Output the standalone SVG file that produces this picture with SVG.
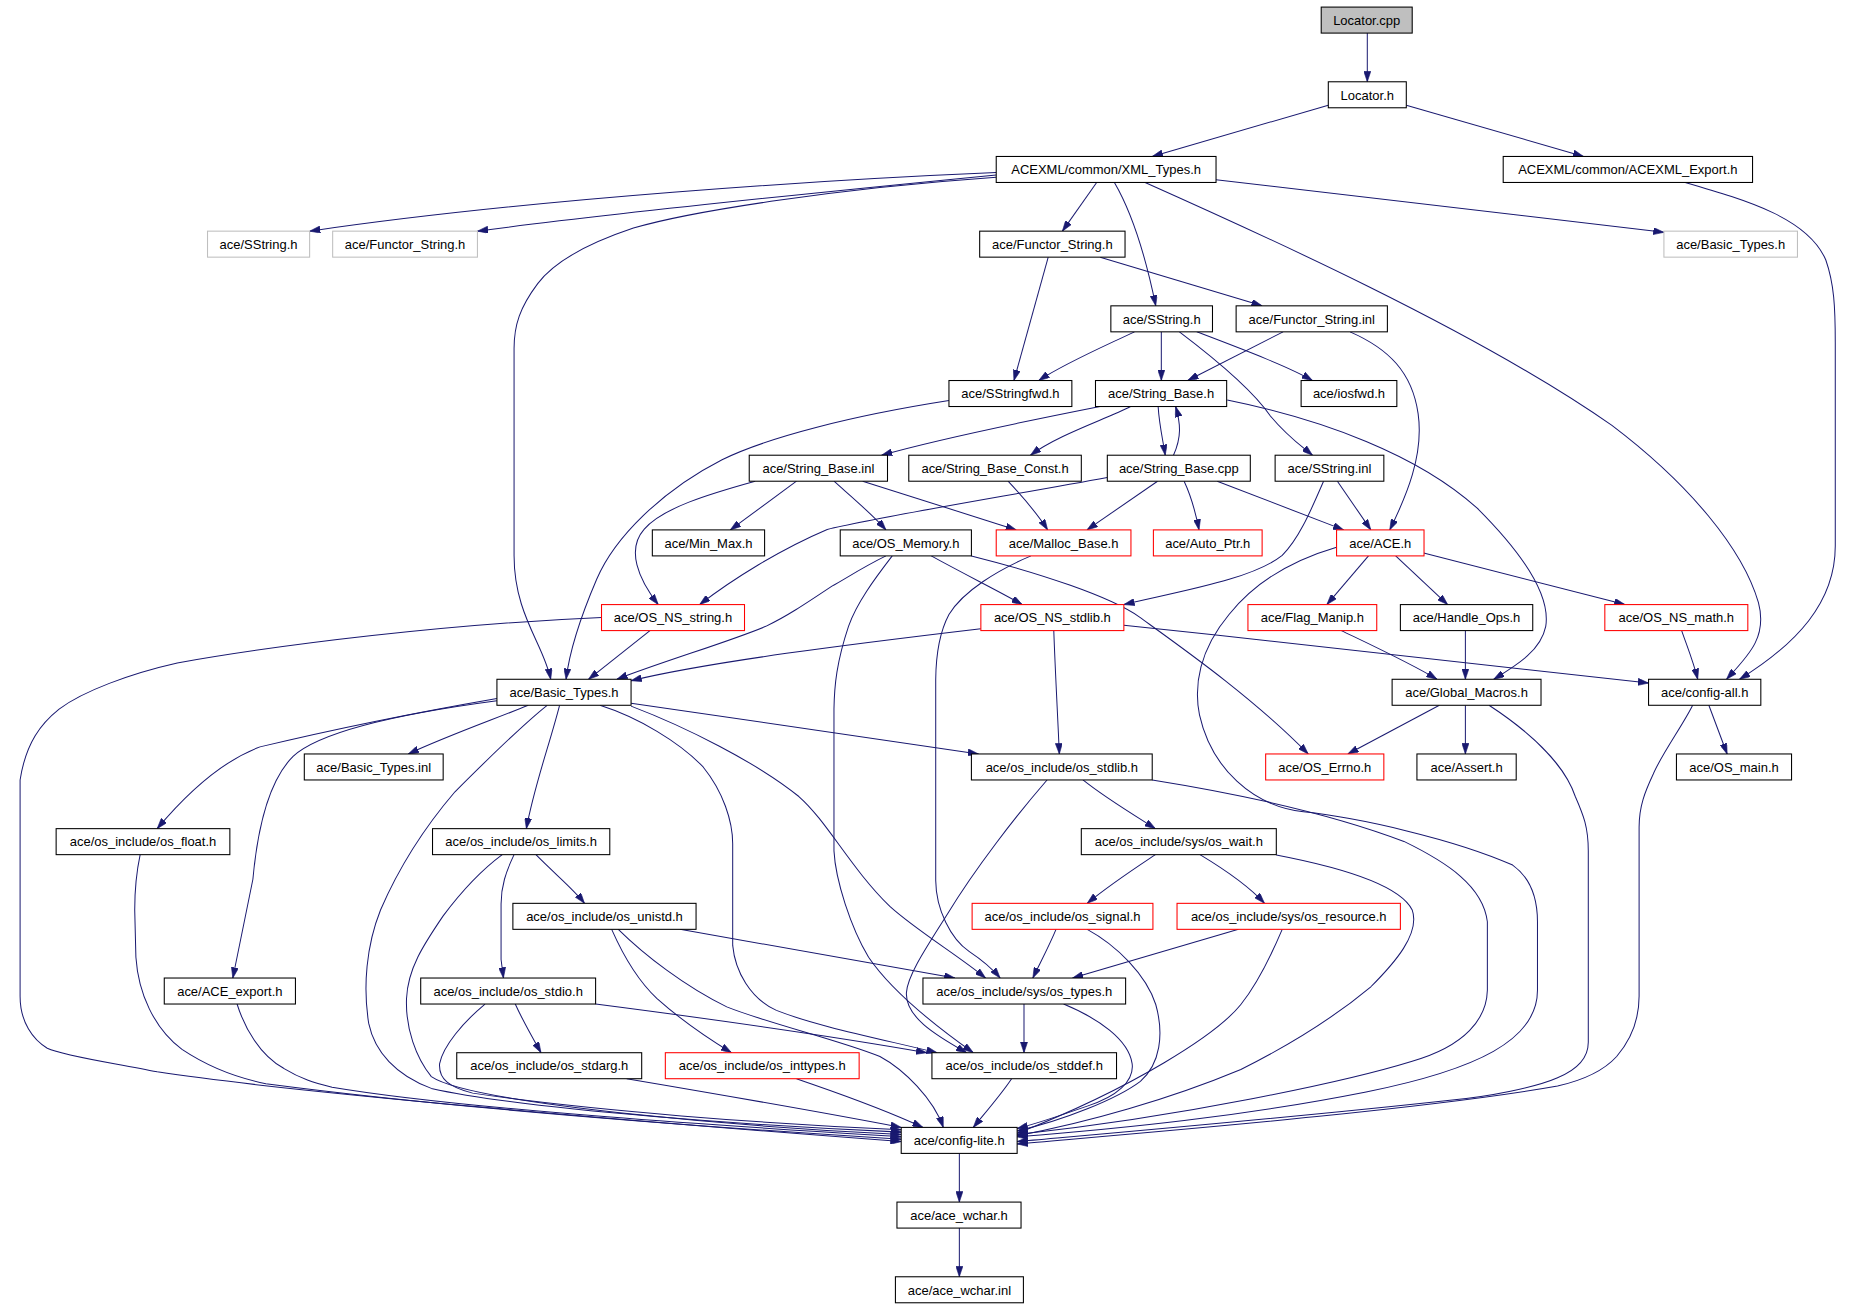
<svg xmlns="http://www.w3.org/2000/svg" width="1853" height="1307" viewBox="0 0 1853 1307">
<style>
.n rect{fill:#fff;stroke:#000;stroke-width:0.9}
.n.r rect{stroke:#f00}
.n.g rect{stroke:#bfbfbf}
.n.root rect{fill:#bfbfbf}
.n text{font-family:"Liberation Sans",Arial,Helvetica,sans-serif;font-size:11px;fill:#000;text-anchor:middle}
#edges path{fill:none;stroke:#191970;stroke-width:0.85;marker-end:url(#ah)}
</style>
<defs>
<marker id="ah" markerUnits="userSpaceOnUse" markerWidth="9" markerHeight="6" refX="9" refY="3" orient="auto">
<path d="M0,0 L9,3 L0,6 z" fill="#191970" stroke="#191970" stroke-width="0.5"/>
</marker>
</defs>
<rect width="1853" height="1307" fill="#fff"/>
<g transform="scale(1.18176)">
<g id="edges">
<path d="M1157,28 L1157,69.2"/>
<path d="M1124,89 L975,132.4"/>
<path d="M1190,89 L1340,132.4"/>
<path d="M843,146 C700,152 450,168 262,195.6"/>
<path d="M843,148 C700,162 520,180 404,195.6"/>
<path d="M843,150 C700,160 580,180 536,193 C500,205 470,220 455,240 C440,260 435,275 435,295 L435,470 C435,520 460,545 466,574.8"/>
<path d="M928,154.4 L899,195.6"/>
<path d="M943,154.4 C955,175 968,210 978,258.8"/>
<path d="M1029,152 L1408,196.6"/>
<path d="M969,154.4 C1060,195 1250,280 1364,360 C1430,410 1475,465 1488,510 C1496,540 1478,556 1461,574.8"/>
<path d="M1426,154.4 C1480,170 1530,185 1545,220 C1552,240 1553,260 1553,290 L1553,462 C1553,510 1520,545 1472,574.8"/>
<path d="M887,217.6 L858,322"/>
<path d="M931,217.6 L1068,258.8"/>
<path d="M960,280.8 C930,295 900,308 879,322"/>
<path d="M982.7,280.8 L982.7,322"/>
<path d="M1012.7,280.8 C1050,295 1090,310 1110.6,322"/>
<path d="M998,280.8 C1030,305 1060,330 1075,352 C1090,370 1102,378 1110.6,385.2"/>
<path d="M1085.7,280.8 L1005,322"/>
<path d="M1142.4,280.8 C1175,295 1195,315 1200,350 C1205,385 1190,420 1176,448.4"/>
<path d="M803,339 C720,352 650,370 611,389 C560,415 520,455 505,490 C490,525 482,550 479,574.8"/>
<path d="M930.8,344 C870,356 800,370 746,385.2"/>
<path d="M956.7,344 C935,355 895,368 872,385.2"/>
<path d="M980,344 C981,360 984,372 986,385.2"/>
<path d="M993,385.2 C1000,370 999,358 994.8,344"/>
<path d="M1038.5,338.5 C1120,355 1200,385 1250,430 C1290,470 1312,505 1308,530 C1304,550 1285,562 1264,574.8"/>
<path d="M674,407.2 L618,448.4"/>
<path d="M705.7,407.2 C720,420 738,435 749.7,448.4"/>
<path d="M730,407.2 L860,448.4"/>
<path d="M639,407.2 C600,418 560,430 545,448 C530,465 540,490 557,511.6"/>
<path d="M853,407.2 C865,420 878,435 886.5,448.4"/>
<path d="M979.5,407.2 L919.8,448.4"/>
<path d="M1002,407.2 C1008,420 1012,435 1014.6,448.4"/>
<path d="M1030,407.2 L1137,448.4"/>
<path d="M937,404 C850,420 740,438 700,448 C660,465 620,490 592,511.6"/>
<path d="M1131.7,407.2 L1160,448.4"/>
<path d="M1120,407.2 C1110,430 1100,455 1085,470 C1060,490 1000,500 951,511.6"/>
<path d="M1158,470.4 L1122.8,511.6"/>
<path d="M1181,470.4 L1225,511.6"/>
<path d="M1204.7,468 L1375,511.6"/>
<path d="M1131,463 C1090,475 1060,495 1040,520 C1015,550 1010,580 1015,605 C1025,650 1060,682 1103,687 C1150,692 1230,710 1280,732 C1298,745 1301,765 1301,780 L1301,838 C1301,880 1250,905 1156,924 C1050,945 950,955 860.7,962"/>
<path d="M550,533.6 L498,574.8"/>
<path d="M509,522.5 C380,528 240,545 150,561 C110,570 70,585 50,600 C35,612 22,628 17,660 L17,843 C17,865 28,880 40,887 C55,894 100,900 133,907 C250,925 550,950 762.6,966"/>
<path d="M830,532 C720,545 600,560 534,576"/>
<path d="M749.7,470.4 C730,480 715,490 704,496 C680,512 665,522 648,530 C620,542 560,560 522,574.8"/>
<path d="M755,470.4 C740,490 725,510 718,530 C708,560 706,580 705.7,600 L705.7,720 C707,745 720,785 735,810 C752,835 780,860 823.6,890.8"/>
<path d="M788,470.4 C820,488 845,500 865,511.6"/>
<path d="M822,470.4 C880,485 940,505 964,522 C1000,548 1060,590 1107,638"/>
<path d="M891.7,533.6 C893,570 895,605 896.4,638"/>
<path d="M951,529 C1100,545 1250,562 1395,578"/>
<path d="M1135,533.6 C1165,548 1195,562 1216,574.8"/>
<path d="M1240,533.6 L1240,574.8"/>
<path d="M1423,533.6 C1428,548 1433,560 1436.6,574.8"/>
<path d="M447,596.8 C420,608 380,622 345.5,638"/>
<path d="M420.5,591 C340,605 270,620 220,632 C185,645 155,675 133,701.2"/>
<path d="M420.5,593 C330,605 270,620 248,640 C228,660 218,700 214,744 L197,827.6"/>
<path d="M463,596.8 C440,615 410,645 385,670 C355,705 335,740 322,770 C310,800 307,835 312,866 C317,890 335,910 365,921 C450,940 650,953 762.6,958"/>
<path d="M473.5,596.8 C465,630 452,665 445.4,701.2"/>
<path d="M534,595 L828,638"/>
<path d="M534,597.5 C580,615 640,645 676,674 C700,695 720,735 753,767 C775,787 810,808 834,827.6"/>
<path d="M507.7,596.8 C540,607 575,628 595,649 C612,670 620,695 620,714 L620,800 C622,822 635,845 657,855 C690,868 740,878 793,890.8"/>
<path d="M1218,596.8 L1140.5,638"/>
<path d="M1240,596.8 L1240,638"/>
<path d="M1260,596.8 C1300,623 1325,650 1333,674 C1340,690 1344,700 1344,720 L1344,882 C1344,895 1335,905 1318,912 C1300,920 1260,928 1227,931 C1100,945 950,958 860.7,966"/>
<path d="M1446,596.8 L1461.5,638"/>
<path d="M1432.3,596.8 C1425,612 1405,640 1399,655 C1392,670 1387,682 1387,700 L1387,843 C1387,862 1380,880 1368,894 C1358,905 1340,914 1318,919 C1200,940 950,960 860.7,968"/>
<path d="M916.4,660 C935,675 960,690 977.7,701.2"/>
<path d="M975,660 C1050,672 1130,690 1188,712 C1225,730 1255,750 1258.6,780 L1258.6,838 C1258,862 1240,885 1195,898 C1140,915 1000,945 860.7,960"/>
<path d="M886,660 C860,690 825,735 802,773 C785,800 768,825 767,840 C766,860 790,875 818,890.8"/>
<path d="M453.5,723.2 C470,740 485,752 494.6,764.4"/>
<path d="M435,723.2 C428,738 424,750 424,765 L424,812 L426,827.6"/>
<path d="M425,723.2 C405,738 390,755 375,775 C358,800 345,820 344,845 C343,870 352,895 365,911 C400,935 650,955 762.6,960"/>
<path d="M118.6,723.2 C115,740 114,755 114,770 L115,810 C117,840 130,870 154,888 C175,902 200,912 225,917 C400,940 650,957 762.6,964"/>
<path d="M200.6,849.6 C207,870 220,893 240,904 C255,913 265,916 281,920 C400,940 650,955 762.6,962"/>
<path d="M436,849.6 C442,863 450,877 457.8,890.8"/>
<path d="M410.4,849.6 C392,865 375,885 372,900 C371,913 380,920 400,925 C500,940 650,951 762.6,956"/>
<path d="M504,849.6 C600,862 700,876 784.2,890.8"/>
<path d="M530.3,912.8 C620,928 700,942 762.6,954"/>
<path d="M674,912.8 C700,922 740,935 781,954"/>
<path d="M856,912.8 C848,925 835,940 823.6,954"/>
<path d="M866.5,849.6 L866.5,890.8"/>
<path d="M900,849.6 C930,862 955,880 958,900 C960,915 945,928 920,936 C900,943 880,950 860.7,955"/>
<path d="M575.4,786.4 L808,827.6"/>
<path d="M517.6,786.4 C528,810 540,830 556,845 C575,862 598,878 619,890.8"/>
<path d="M523.2,786.4 C545,808 580,835 615,852 C650,866 710,880 744.6,894 C765,905 790,930 798.2,954"/>
<path d="M893.6,786.4 C888,800 880,815 874,827.6"/>
<path d="M920,786.4 C945,800 970,825 978,850 C985,875 982,900 965,915 C945,930 900,948 860.7,957"/>
<path d="M1048,786.4 L907.6,827.6"/>
<path d="M1085,786.4 C1075,810 1062,835 1050,850 C1030,875 960,920 860.7,959"/>
<path d="M977.7,723.2 C960,735 940,748 920,764.4"/>
<path d="M1015.4,723.2 C1035,735 1055,748 1070,764.4"/>
<path d="M1080,723.5 C1140,735 1185,750 1195,770 C1202,790 1180,815 1160,835 C1130,860 1090,885 1050,905 C990,930 920,950 860.7,961"/>
<path d="M872.4,470.4 C845,482 815,500 803,520 C795,535 792,555 791.8,575 L791.8,745 C792,770 805,795 820,805 C832,813 840,820 846.3,827.6"/>
<path d="M811.8,976 L811.8,1017.2"/>
<path d="M811.8,1039.2 L811.8,1080.4"/>
</g>
<g id="n0" class="n root"><rect x="1118" y="6" width="77" height="22"/><text x="1156.5" y="21">Locator.cpp</text></g>
<g id="n1" class="n"><rect x="1124" y="69.2" width="66" height="22"/><text x="1157" y="84.2">Locator.h</text></g>
<g id="n2" class="n"><rect x="843" y="132.4" width="186" height="22"/><text x="936" y="147.4">ACEXML/common/XML_Types.h</text></g>
<g id="n3" class="n"><rect x="1272" y="132.4" width="211" height="22"/><text x="1377.5" y="147.4">ACEXML/common/ACEXML_Export.h</text></g>
<g id="n4" class="n g"><rect x="175.6" y="195.6" width="86.4" height="22"/><text x="218.8" y="210.6">ace/SString.h</text></g>
<g id="n5" class="n g"><rect x="281.5" y="195.6" width="122.5" height="22"/><text x="342.75" y="210.6">ace/Functor_String.h</text></g>
<g id="n6" class="n"><rect x="829" y="195.6" width="123" height="22"/><text x="890.5" y="210.6">ace/Functor_String.h</text></g>
<g id="n7" class="n g"><rect x="1408" y="195.6" width="113" height="22"/><text x="1464.5" y="210.6">ace/Basic_Types.h</text></g>
<g id="n8" class="n"><rect x="940" y="258.8" width="86" height="22"/><text x="983" y="273.8">ace/SString.h</text></g>
<g id="n9" class="n"><rect x="1046" y="258.8" width="128" height="22"/><text x="1110" y="273.8">ace/Functor_String.inl</text></g>
<g id="n10" class="n"><rect x="803" y="322" width="104" height="22"/><text x="855" y="337">ace/SStringfwd.h</text></g>
<g id="n11" class="n"><rect x="927" y="322" width="111" height="22"/><text x="982.5" y="337">ace/String_Base.h</text></g>
<g id="n12" class="n"><rect x="1101" y="322" width="81" height="22"/><text x="1141.5" y="337">ace/iosfwd.h</text></g>
<g id="n13" class="n"><rect x="634" y="385.2" width="117" height="22"/><text x="692.5" y="400.2">ace/String_Base.inl</text></g>
<g id="n14" class="n"><rect x="769" y="385.2" width="146" height="22"/><text x="842" y="400.2">ace/String_Base_Const.h</text></g>
<g id="n15" class="n"><rect x="937" y="385.2" width="121" height="22"/><text x="997.5" y="400.2">ace/String_Base.cpp</text></g>
<g id="n16" class="n"><rect x="1079" y="385.2" width="92" height="22"/><text x="1125" y="400.2">ace/SString.inl</text></g>
<g id="n17" class="n"><rect x="552" y="448.4" width="95" height="22"/><text x="599.5" y="463.4">ace/Min_Max.h</text></g>
<g id="n18" class="n"><rect x="711" y="448.4" width="111" height="22"/><text x="766.5" y="463.4">ace/OS_Memory.h</text></g>
<g id="n19" class="n r"><rect x="843" y="448.4" width="114" height="22"/><text x="900" y="463.4">ace/Malloc_Base.h</text></g>
<g id="n20" class="n r"><rect x="976" y="448.4" width="92" height="22"/><text x="1022" y="463.4">ace/Auto_Ptr.h</text></g>
<g id="n21" class="n r"><rect x="1131" y="448.4" width="74" height="22"/><text x="1168" y="463.4">ace/ACE.h</text></g>
<g id="n22" class="n r"><rect x="509" y="511.6" width="121" height="22"/><text x="569.5" y="526.6">ace/OS_NS_string.h</text></g>
<g id="n23" class="n r"><rect x="830" y="511.6" width="121" height="22"/><text x="890.5" y="526.6">ace/OS_NS_stdlib.h</text></g>
<g id="n24" class="n r"><rect x="1056" y="511.6" width="109" height="22"/><text x="1110.5" y="526.6">ace/Flag_Manip.h</text></g>
<g id="n25" class="n"><rect x="1185" y="511.6" width="112" height="22"/><text x="1241" y="526.6">ace/Handle_Ops.h</text></g>
<g id="n26" class="n r"><rect x="1358" y="511.6" width="121" height="22"/><text x="1418.5" y="526.6">ace/OS_NS_math.h</text></g>
<g id="n27" class="n"><rect x="420.5" y="574.8" width="113.5" height="22"/><text x="477.25" y="589.8">ace/Basic_Types.h</text></g>
<g id="n28" class="n"><rect x="1178" y="574.8" width="126" height="22"/><text x="1241" y="589.8">ace/Global_Macros.h</text></g>
<g id="n29" class="n"><rect x="1395" y="574.8" width="95" height="22"/><text x="1442.5" y="589.8">ace/config-all.h</text></g>
<g id="n30" class="n"><rect x="257.5" y="638" width="117.5" height="22"/><text x="316.25" y="653">ace/Basic_Types.inl</text></g>
<g id="n31" class="n"><rect x="822" y="638" width="153" height="22"/><text x="898.5" y="653">ace/os_include/os_stdlib.h</text></g>
<g id="n32" class="n r"><rect x="1071" y="638" width="100" height="22"/><text x="1121" y="653">ace/OS_Errno.h</text></g>
<g id="n33" class="n"><rect x="1199" y="638" width="84" height="22"/><text x="1241" y="653">ace/Assert.h</text></g>
<g id="n34" class="n"><rect x="1418.6" y="638" width="97.4" height="22"/><text x="1467.3" y="653">ace/OS_main.h</text></g>
<g id="n35" class="n"><rect x="47.5" y="701.2" width="147" height="22"/><text x="121" y="716.2">ace/os_include/os_float.h</text></g>
<g id="n36" class="n"><rect x="366" y="701.2" width="150" height="22"/><text x="441" y="716.2">ace/os_include/os_limits.h</text></g>
<g id="n37" class="n"><rect x="915" y="701.2" width="165" height="22"/><text x="997.5" y="716.2">ace/os_include/sys/os_wait.h</text></g>
<g id="n38" class="n"><rect x="434" y="764.4" width="155" height="22"/><text x="511.5" y="779.4">ace/os_include/os_unistd.h</text></g>
<g id="n39" class="n r"><rect x="822.6" y="764.4" width="153" height="22"/><text x="899.1" y="779.4">ace/os_include/os_signal.h</text></g>
<g id="n40" class="n r"><rect x="996" y="764.4" width="189" height="22"/><text x="1090.5" y="779.4">ace/os_include/sys/os_resource.h</text></g>
<g id="n41" class="n"><rect x="139" y="827.6" width="111" height="22"/><text x="194.5" y="842.6">ace/ACE_export.h</text></g>
<g id="n42" class="n"><rect x="356" y="827.6" width="148" height="22"/><text x="430" y="842.6">ace/os_include/os_stdio.h</text></g>
<g id="n43" class="n"><rect x="781" y="827.6" width="171.5" height="22"/><text x="866.75" y="842.6">ace/os_include/sys/os_types.h</text></g>
<g id="n44" class="n"><rect x="386.5" y="890.8" width="156.5" height="22"/><text x="464.75" y="905.8">ace/os_include/os_stdarg.h</text></g>
<g id="n45" class="n r"><rect x="563" y="890.8" width="164" height="22"/><text x="645" y="905.8">ace/os_include/os_inttypes.h</text></g>
<g id="n46" class="n"><rect x="788.6" y="890.8" width="156.2" height="22"/><text x="866.7" y="905.8">ace/os_include/os_stddef.h</text></g>
<g id="n47" class="n"><rect x="762.6" y="954" width="98.1" height="22"/><text x="811.65" y="969">ace/config-lite.h</text></g>
<g id="n48" class="n"><rect x="759" y="1017.2" width="105" height="22"/><text x="811.5" y="1032.2">ace/ace_wchar.h</text></g>
<g id="n49" class="n"><rect x="757.7" y="1080.4" width="108.3" height="22"/><text x="811.85" y="1095.4">ace/ace_wchar.inl</text></g>
</g>
</svg>
